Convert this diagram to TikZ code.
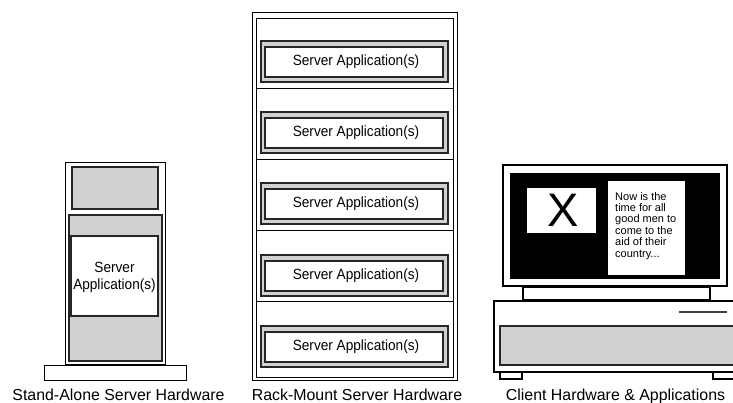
\documentclass[tikz,border=0pt]{standalone}
\usepackage{fontspec}
\setmainfont{Liberation Sans}
\newfontfamily\appfont[FakeStretch=0.92]{Liberation Sans}
\begin{document}
\begin{tikzpicture}[x=1pt,y=-1pt,
  frame/.style={draw=black, line width=1pt, fill=white},
  panel/.style={draw=black!85, line width=1.4pt, fill=black!18},
  appbox/.style={draw=black!85, line width=1.2pt, fill=white},
  apptext/.style={font=\appfont\fontsize{14.8}{17}\selectfont, inner sep=0pt},
  caption/.style={font=\fontsize{15.9}{19}\selectfont, inner sep=0pt, anchor=base}]
\useasboundingbox (0,0) rectangle (733,402);
\clip (0,0) rectangle (733,402);

% ---- stand-alone tower ----
\draw[frame] (44,365) rectangle (186,380);
\draw[frame] (65,162) rectangle (165,364);
\draw[panel] (72,167) rectangle (158,209);
\draw[panel] (69,215) rectangle (162,361);
\draw[appbox] (71,236) rectangle (158,316);
\node[apptext, align=center] (towerapp) at (114.5,277) {Server\\Application(s)};
\node[caption] (towercap) at (118.5,400) {Stand-Alone Server Hardware};

% ---- rack with five slots ----
\draw[line width=1pt] (252,12) rectangle (457,380);
\draw[line width=1pt] (256,18) rectangle (453,377);
\foreach \y in {88,159,230,301}
  \draw[line width=1pt] (256,\y) -- (453,\y);
\foreach \t [count=\i] in {41,112,183,255,326} {
  \draw[panel] (261,\t) rectangle (448,\t+41);
  \draw[appbox] (265,\t+6) rectangle (443,\t+36);
  \node[apptext] (rackapp\i) at (356,\t+21) {Server Application(s)};
}
\node[caption] (rackcap) at (357,400) {Rack-Mount Server Hardware};

% ---- desktop client ----
\draw[frame, line width=1.2pt] (503,165) rectangle (727,286);
\fill[black] (510,173) rectangle (720,279);
\draw[fill=white, line width=0.8pt] (526,187) rectangle (596,233);
\node[font=\fontsize{47}{47}\selectfont, inner sep=0pt] (xmark) at (563,210) {X};
\draw[fill=white, line width=0.8pt] (607,180) rectangle (685,275);
\node[anchor=north west, align=left, inner sep=0pt,
      font=\fontsize{11}{11.4}\selectfont] (blurb) at (615,192)
  {Now is the\\time for all\\good men to\\come to the\\aid of their\\country...};
\draw[frame, line width=1.2pt] (523,287) rectangle (710,300);
\draw[frame, line width=1.2pt] (494,301) rectangle (745,372);
\draw[line width=1.2pt, black!75] (679,312) -- (727,312);
\draw[panel] (500,326) rectangle (745,365);
\draw[frame, line width=1.2pt] (500,372) rectangle (522,379);
\draw[frame, line width=1.2pt] (713,372) rectangle (745,379);
\node[caption] (clientcap) at (615.5,400) {Client Hardware \& Applications};
\end{tikzpicture}
\end{document}
